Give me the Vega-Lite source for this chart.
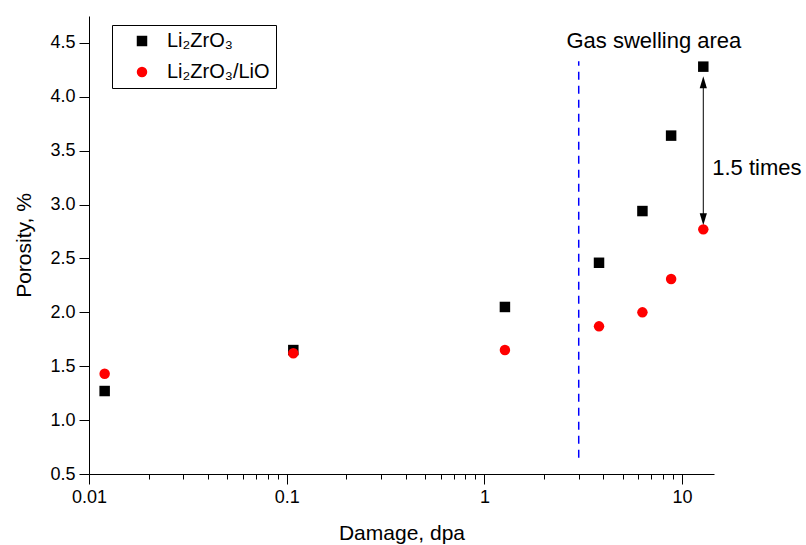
{
  "$schema": "https://vega.github.io/schema/vega-lite/v6.json",
  "width": 625,
  "height": 458,
  "autosize": {"type": "none"},
  "padding": {"left": 89, "top": 16, "right": 92, "bottom": 71},
  "background": "white",
  "config": {
    "view": {"stroke": null},
    "font": "Liberation Sans",
    "axis": {
      "domainColor": "black",
      "domainWidth": 1,
      "tickColor": "black",
      "tickWidth": 1,
      "labelColor": "black",
      "labelFont": "Liberation Sans",
      "labelFontSize": 18,
      "labelOverlap": false,
      "labelFlush": false,
      "titleColor": "black",
      "titleFont": "Liberation Sans",
      "titleFontSize": 21,
      "titleFontWeight": "normal",
      "grid": false
    }
  },
  "datasets": {
    "points": [
      {"damage": 0.012, "porosity": 1.27, "series": "Li₂ZrO₃"},
      {"damage": 0.108, "porosity": 1.65, "series": "Li₂ZrO₃"},
      {"damage": 1.27, "porosity": 2.05, "series": "Li₂ZrO₃"},
      {"damage": 3.8, "porosity": 2.46, "series": "Li₂ZrO₃"},
      {"damage": 6.3, "porosity": 2.94, "series": "Li₂ZrO₃"},
      {"damage": 8.8, "porosity": 3.64, "series": "Li₂ZrO₃"},
      {"damage": 12.8, "porosity": 4.28, "series": "Li₂ZrO₃"},
      {"damage": 0.012, "porosity": 1.43, "series": "Li₂ZrO₃/LiO"},
      {"damage": 0.108, "porosity": 1.62, "series": "Li₂ZrO₃/LiO"},
      {"damage": 1.27, "porosity": 1.65, "series": "Li₂ZrO₃/LiO"},
      {"damage": 3.8, "porosity": 1.87, "series": "Li₂ZrO₃/LiO"},
      {"damage": 6.3, "porosity": 2.0, "series": "Li₂ZrO₃/LiO"},
      {"damage": 8.8, "porosity": 2.31, "series": "Li₂ZrO₃/LiO"},
      {"damage": 12.8, "porosity": 2.77, "series": "Li₂ZrO₃/LiO"}
    ],
    "dashed": [{"damage": 3.0, "y1": 0.65, "y2": 4.33}],
    "arrow": [{"damage": 12.8, "y1": 2.85, "y2": 4.15}],
    "headUp": [{"damage": 12.8, "porosity": 4.135}],
    "headDown": [{"damage": 12.8, "porosity": 2.865}],
    "gas": [{"damage": 7.2, "porosity": 4.52, "text": "Gas swelling area"}],
    "times": [{"damage": 14.2, "porosity": 3.34, "text": "1.5 times"}]
  },
  "layer": [
    {
      "data": {"name": "dashed"},
      "mark": {"type": "rule", "color": "#0000ff", "strokeWidth": 1.5, "strokeDash": [8, 6]},
      "encoding": {
        "x": {"field": "damage", "type": "quantitative", "scale": {"type": "log", "domain": [0.01, 14.5], "nice": false}},
        "y": {"field": "y1", "type": "quantitative", "scale": {"domain": [0.5, 4.75], "nice": false, "zero": false}},
        "y2": {"field": "y2"}
      }
    },
    {
      "data": {"name": "arrow"},
      "mark": {"type": "rule", "color": "black", "strokeWidth": 1},
      "encoding": {
        "x": {"field": "damage", "type": "quantitative"},
        "y": {"field": "y1", "type": "quantitative"},
        "y2": {"field": "y2"}
      }
    },
    {
      "data": {"name": "headUp"},
      "mark": {"type": "point", "filled": true, "color": "black", "opacity": 1, "size": 144, "shape": "M0,-1L-0.6,1L0.6,1Z"},
      "encoding": {
        "x": {"field": "damage", "type": "quantitative"},
        "y": {"field": "porosity", "type": "quantitative"}
      }
    },
    {
      "data": {"name": "headDown"},
      "mark": {"type": "point", "filled": true, "color": "black", "opacity": 1, "size": 144, "shape": "M0,1L-0.6,-1L0.6,-1Z"},
      "encoding": {
        "x": {"field": "damage", "type": "quantitative"},
        "y": {"field": "porosity", "type": "quantitative"}
      }
    },
    {
      "data": {"name": "points"},
      "mark": {"type": "point", "filled": true, "opacity": 1, "size": 110},
      "encoding": {
        "x": {
          "field": "damage",
          "type": "quantitative",
          "axis": {
            "title": "Damage, dpa",
            "values": [0.01, 0.02, 0.03, 0.04, 0.05, 0.06, 0.07, 0.08, 0.09, 0.1, 0.2, 0.3, 0.4, 0.5, 0.6, 0.7, 0.8, 0.9, 1, 2, 3, 4, 5, 6, 7, 8, 9, 10],
            "format": "~g",
            "labelExpr": "abs(log(datum.value)/LN10 - round(log(datum.value)/LN10)) < 0.001 ? datum.label : ''",
            "tickSize": {"condition": {"test": "abs(log(datum.value)/LN10 - round(log(datum.value)/LN10)) < 0.001", "value": 10}, "value": 5},
            "labelPadding": 4,
            "titlePadding": 16
          }
        },
        "y": {
          "field": "porosity",
          "type": "quantitative",
          "axis": {
            "title": "Porosity, %",
            "values": [0.5, 0.75, 1.0, 1.25, 1.5, 1.75, 2.0, 2.25, 2.5, 2.75, 3.0, 3.25, 3.5, 3.75, 4.0, 4.25, 4.5],
            "format": ".1f",
            "labelExpr": "abs(datum.value*2 - round(datum.value*2)) < 0.001 ? datum.label : ''",
            "tickSize": {"condition": {"test": "abs(datum.value*2 - round(datum.value*2)) < 0.001", "value": 10}, "value": 5},
            "labelPadding": 4,
            "titlePadding": 15
          }
        },
        "color": {
          "field": "series",
          "type": "nominal",
          "scale": {"domain": ["Li₂ZrO₃", "Li₂ZrO₃/LiO"], "range": ["#000000", "#ff0000"]},
          "legend": {
            "orient": "none",
            "legendX": 23,
            "legendY": 9,
            "title": null,
            "strokeColor": "black",
            "fillColor": "white",
            "padding": 6,
            "symbolOffset": 14,
            "labelOffset": 15,
            "labelFontSize": 20,
            "labelFont": "Liberation Sans",
            "labelColor": "black",
            "rowPadding": 11,
            "symbolSize": 110,
            "symbolStrokeWidth": 0
          }
        },
        "shape": {
          "field": "series",
          "type": "nominal",
          "scale": {"domain": ["Li₂ZrO₃", "Li₂ZrO₃/LiO"], "range": ["square", "circle"]}
        }
      }
    },
    {
      "data": {"name": "gas"},
      "mark": {"type": "text", "align": "center", "baseline": "middle", "fontSize": 22, "font": "Liberation Sans", "color": "black"},
      "encoding": {
        "x": {"field": "damage", "type": "quantitative"},
        "y": {"field": "porosity", "type": "quantitative"},
        "text": {"field": "text"}
      }
    },
    {
      "data": {"name": "times"},
      "mark": {"type": "text", "align": "left", "baseline": "middle", "fontSize": 22, "font": "Liberation Sans", "color": "black"},
      "encoding": {
        "x": {"field": "damage", "type": "quantitative"},
        "y": {"field": "porosity", "type": "quantitative"},
        "text": {"field": "text"}
      }
    }
  ]
}
